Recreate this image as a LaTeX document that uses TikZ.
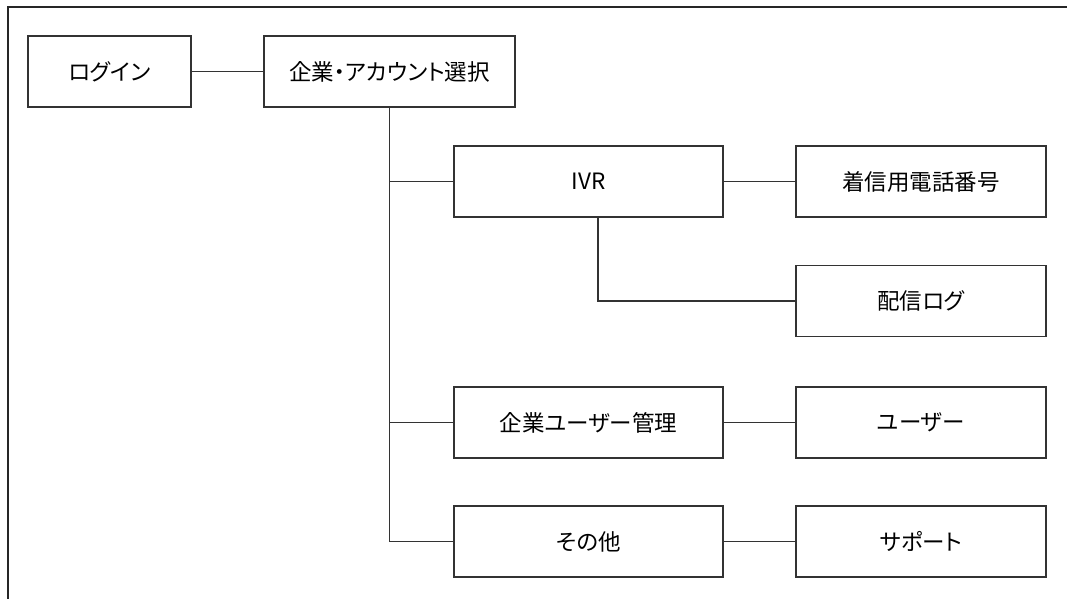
\documentclass[tikz,border=0pt]{standalone}
\usepackage{fontspec}
\newfontfamily\jpfont[RawFeature=+palt]{Noto Sans CJK JP}
\usetikzlibrary{positioning}

\begin{document}
\begin{tikzpicture}[x=1pt,y=1pt]
\useasboundingbox (0,0) rectangle (1067,-599);
% Draw Frame
\coordinate (fbl) at (8,-599);
\coordinate (ftr) at (1067,-7);
\draw[line width=1.5pt,black!85] (fbl) |- (ftr);
% Draw Site Map
   \begin{scope}[ node distance=280pt,on grid,
                   page/.style={rectangle,draw=black!80,line width=1.4pt,
                     minimum width=250pt,minimum height=71pt,
                     font=\jpfont\fontsize{22.5}{22.5}\selectfont},
                   link/.style={draw=black!80,line width=1.4pt} ]
     \node [page,minimum width=163pt] (login) at (109.5,-71.5) {ログイン};
     \node [page,minimum width=251pt] (select) [right=of login] {企業・アカウント選択};
     \node [page,minimum width=269pt] (ivr)    [below right=110pt and 199pt of select] {IVR};
     \node [page] (tel)    [right=332.5pt of ivr]      {着信用電話番号};
     \node [page] (log)    [below=119.5pt of tel]      {配信ログ};
     \node [page,minimum width=269pt] (umgmt)  [below=241pt of ivr]     {企業ユーザー管理};
     \node [page] (user)   [right=332.5pt of umgmt]    {ユーザー};
     \node [page,minimum width=269pt] (other)  [below=119pt of umgmt]   {その他};
     \node [page] (support) [right=332.5pt of other]   {サポート};
     \draw [link] (login) -- (select);
     \draw [link] (select.south) |- (ivr.west);
     \draw [link] (select.south) |- (umgmt.west);
     \draw [link] (select.south) |- (other.west);
     \draw [link] (ivr) -- (tel);
     \draw [link] ([xshift=9.5pt]ivr.south) |- (log.west);
     \draw [link] (umgmt) -- (user);
     \draw [link] (other) -- (support);
   \end{scope}
\end{tikzpicture}
\end{document}
